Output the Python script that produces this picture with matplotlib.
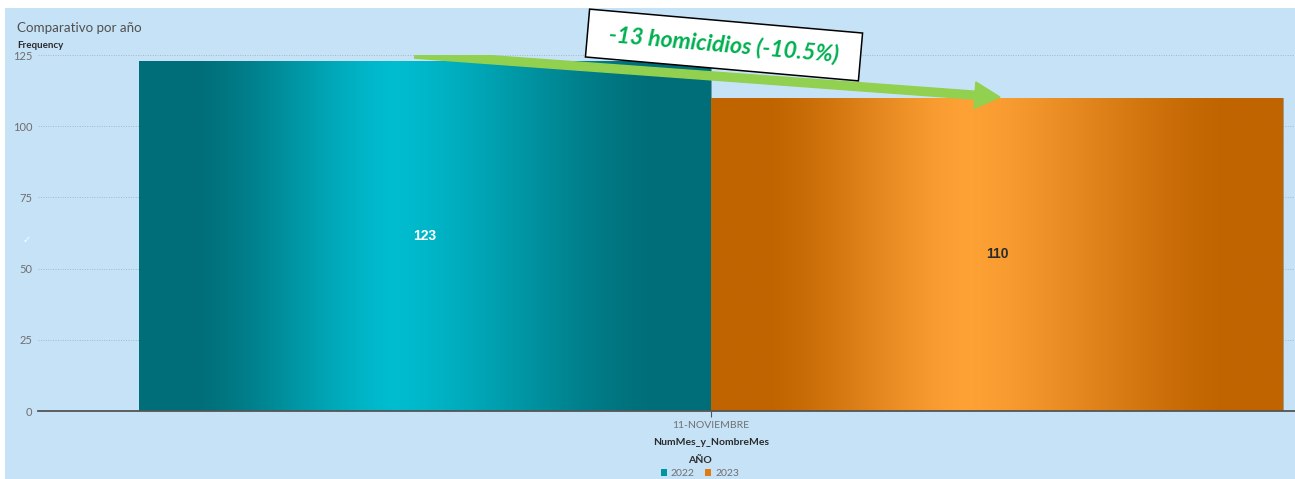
import numpy as np
import matplotlib
matplotlib.use("Agg")
import matplotlib.pyplot as plt
from matplotlib.colors import ListedColormap, to_rgb
from matplotlib.patches import Rectangle, Patch, FancyArrowPatch
from matplotlib.transforms import Affine2D, blended_transform_factory

# ---- data ----
category = ["11-NOVIEMBRE"]
years = ["2022", "2023"]
values = [123, 110]
yticks = [0, 25, 50, 75, 100, 125]
change_label = "-13 homicidios (-10.5%)"
legend_colors = ["#00959F", "#E07A12"]
label_colors = ["white", "#2b2b2b"]
dark_colors = ["#006E78", "#C06400"]
light_colors = ["#00BDD0", "#FFA236"]

W, H = 1295, 479
fig = plt.figure(figsize=(W / 100, H / 100), dpi=100)
fig.patch.set_facecolor("white")
fig.patches.append(Rectangle((5 / W, 0), 1 - 5 / W, 1 - 8 / H, transform=fig.transFigure,
                             facecolor="#C6E2F7", edgecolor="none", zorder=-10))

left_px, right_px, bottom_px, top_px = 38, 1295, 411, 55
ax = fig.add_axes([left_px / W, (H - bottom_px) / H, (right_px - left_px) / W, (bottom_px - top_px) / H])
ax.set_facecolor("none")

center_px, unit_px = 711, 572
xlim = ((left_px - center_px) / unit_px, (right_px - center_px) / unit_px)


def ease(s):
    return 0.5 * (s + s * s * (3 - 2 * s))


def smooth_cmap(dark, light, lo=0.10, peak=0.445, hi=0.90, n=512):
    t = np.linspace(0, 1, n)
    w = np.zeros(n)
    up = (t > lo) & (t <= peak)
    w[up] = ease((t[up] - lo) / (peak - lo))
    dn = (t > peak) & (t < hi)
    w[dn] = ease((hi - t[dn]) / (hi - peak))
    d, l = np.array(to_rgb(dark)), np.array(to_rgb(light))
    cols = d[None, :] + w[:, None] * (l - d)[None, :]
    return ListedColormap(cols)


offsets = [-0.5, 0.5]
x0 = np.arange(len(category))
grad = np.linspace(0, 1, 512).reshape(1, -1)
for i, (yr, v) in enumerate(zip(years, values)):
    bars = ax.bar(x0 + offsets[i], [v], width=1.0, color=legend_colors[i], zorder=2,
                  edgecolor="#7a8a94", linewidth=0.4)
    cmap = smooth_cmap(dark_colors[i], light_colors[i])
    for b in bars:
        bx, by = b.get_x(), b.get_y()
        bw, bh = b.get_width(), b.get_height()
        im = ax.imshow(grad, cmap=cmap, aspect="auto", extent=(bx, bx + bw, by, by + bh),
                       zorder=2.5, interpolation="bilinear")
        im.set_clip_path(b)
        ax.text(bx + bw / 2, by + bh / 2, str(v), ha="center", va="center", color=label_colors[i],
                fontsize=10, fontweight="bold", family="Liberation Sans", zorder=4)
ax.set_xlim(*xlim)
ax.set_ylim(0, 125)

ax.set_yticks(yticks)
ax.set_yticklabels([str(t) for t in yticks], color="#6E6E6E", fontsize=8, family="Lato")
ax.tick_params(axis="y", length=0, pad=4)
ax.set_xticks(x0)
ax.set_xticklabels(category, color="#707070", fontsize=7.5, family="Lato")
ax.tick_params(axis="x", length=4, color="#555555", pad=3)
ax.grid(axis="y", color="#A8B6C2", linestyle=(0, (1, 1.5)), linewidth=0.7, zorder=0)
ax.set_axisbelow(True)
for s in ["top", "right", "left"]:
    ax.spines[s].set_visible(False)
ax.spines["bottom"].set_color("#555555")
ax.spines["bottom"].set_linewidth(1.3)
ax.spines["bottom"].set_zorder(5)
ax.set_xlabel("NumMes_y_NombreMes", fontsize=7.5, fontweight="bold", color="#2b2b2b",
              family="Lato")
ax.xaxis.set_label_coords(x0[0], -27 / (bottom_px - top_px),
                          transform=blended_transform_factory(ax.transData, ax.transAxes))

# titles
fig.text(17 / W, 1 - 28 / H, "Comparativo por año", fontsize=9.6, color="#505050", family="Lato",
         va="center", ha="left")
fig.text(17 / W, 1 - 45 / H, "Frequency", fontsize=7, fontweight="bold", color="#2b2b2b",
         family="Lato", va="center", ha="left")
fig.text(27 / W, 1 - 240 / H, "✓", fontsize=7, color="white", ha="center", va="center",
         family="DejaVu Sans")

# legend
handles = [Patch(facecolor=c, edgecolor="none") for c in legend_colors]
leg = fig.legend(handles, years, loc="center", bbox_to_anchor=(700 / W, 1 - 467 / H), ncol=2,
                 frameon=False, title="AÑO", handlelength=0.6, handleheight=0.6, handletextpad=0.4,
                 columnspacing=1.0, borderpad=0, labelspacing=0,
                 prop={"family": "Lato", "size": 7.5},
                 title_fontproperties={"family": "Lato", "size": 7.5, "weight": "bold"})
leg._legend_box.sep = 3
for t in leg.get_texts():
    t.set_color("#707070")
leg.get_title().set_color("#2b2b2b")

# change annotation arrow (from above 2022 bar to above 2023 bar)
arrow = FancyArrowPatch((offsets[0] - 0.0175, values[0] + 2.3), (offsets[1] + 0.005, values[1] + 0.25),
                        arrowstyle="Simple,tail_width=5.8,head_width=19,head_length=18",
                        color="#92D050", zorder=6, mutation_scale=1, shrinkA=0, shrinkB=0)
ax.add_patch(arrow)

# rotated white callout box
cx, cy = 724, H - 45
bw_px, bh_px = 274, 48
box = Rectangle((cx - bw_px / 2, cy - bh_px / 2), bw_px, bh_px,
                transform=Affine2D().rotate_deg_around(cx, cy, -5),
                facecolor="white", edgecolor="black", linewidth=1.1, zorder=7)
fig.add_artist(box)
fig.text(cx / W, cy / H, change_label, fontsize=16.5, color="#00B050", fontweight="bold",
         style="italic", family="Lato", ha="center", va="center", rotation=-5,
         rotation_mode="anchor", zorder=8)

fig.savefig("out.png", dpi=100)
